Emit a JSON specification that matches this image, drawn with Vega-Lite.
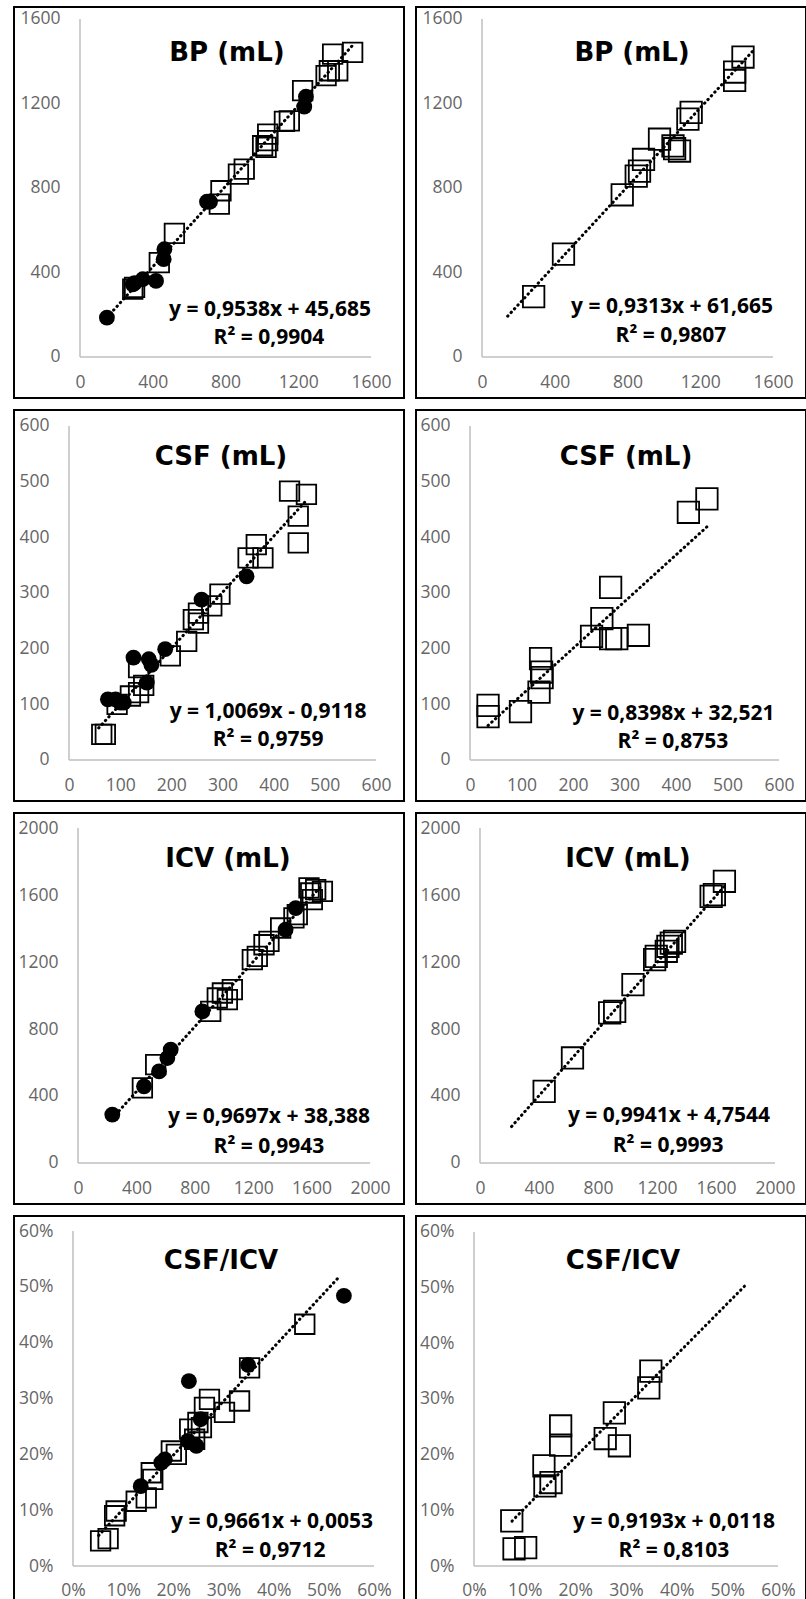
{
"$schema": "https://vega.github.io/schema/vega-lite/v6.json",
"background": "white",
"padding": {"left": 13, "top": 6, "right": 0, "bottom": 0},
"config": {
  "view": {"stroke": "#000", "strokeWidth": 2},
  "axis": {"domain": false, "ticks": false, "grid": false, "labelFont": "Open Sans", "labelFontSize": 17.5, "labelColor": "#666", "labelFlush": false, "labelOverlap": false, "labelBound": false}
},
"datasets": {
  "points": [
    {"p":"A","m":"s","x":290,"y":321},{"p":"A","m":"s","x":300,"y":330},{"p":"A","m":"s","x":436,"y":447},{"p":"A","m":"s","x":519,"y":585},{"p":"A","m":"s","x":775,"y":787},{"p":"A","m":"s","x":766,"y":724},{"p":"A","m":"s","x":871,"y":866},{"p":"A","m":"s","x":903,"y":889},{"p":"A","m":"s","x":1004,"y":1000},{"p":"A","m":"s","x":1023,"y":992},{"p":"A","m":"s","x":1032,"y":1024},{"p":"A","m":"s","x":1032,"y":1055},{"p":"A","m":"s","x":1124,"y":1115},{"p":"A","m":"s","x":1151,"y":1118},{"p":"A","m":"s","x":1224,"y":1261},{"p":"A","m":"s","x":1353,"y":1332},{"p":"A","m":"s","x":1371,"y":1355},{"p":"A","m":"s","x":1417,"y":1355},{"p":"A","m":"s","x":1389,"y":1434},{"p":"A","m":"s","x":1499,"y":1442},
    {"p":"A","m":"c","x":148,"y":186},{"p":"A","m":"c","x":290,"y":344},{"p":"A","m":"c","x":300,"y":350},{"p":"A","m":"c","x":345,"y":368},{"p":"A","m":"c","x":418,"y":360},{"p":"A","m":"c","x":460,"y":463},{"p":"A","m":"c","x":464,"y":510},{"p":"A","m":"c","x":698,"y":735},{"p":"A","m":"c","x":715,"y":735},{"p":"A","m":"c","x":1233,"y":1185},{"p":"A","m":"c","x":1242,"y":1232},
    {"p":"B","m":"s","x":284,"y":286},{"p":"B","m":"s","x":448,"y":487},{"p":"B","m":"s","x":771,"y":768},{"p":"B","m":"s","x":848,"y":856},{"p":"B","m":"s","x":866,"y":880},{"p":"B","m":"s","x":888,"y":935},{"p":"B","m":"s","x":976,"y":1031},{"p":"B","m":"s","x":1050,"y":999},{"p":"B","m":"s","x":1059,"y":986},{"p":"B","m":"s","x":1086,"y":975},{"p":"B","m":"s","x":1132,"y":1126},{"p":"B","m":"s","x":1150,"y":1158},{"p":"B","m":"s","x":1389,"y":1309},{"p":"B","m":"s","x":1389,"y":1349},{"p":"B","m":"s","x":1435,"y":1420},
    {"p":"C","m":"s","x":64,"y":46},{"p":"C","m":"s","x":71,"y":46},{"p":"C","m":"s","x":94,"y":100},{"p":"C","m":"s","x":120,"y":115},{"p":"C","m":"s","x":136,"y":121},{"p":"C","m":"s","x":136,"y":166},{"p":"C","m":"s","x":146,"y":134},{"p":"C","m":"s","x":198,"y":187},{"p":"C","m":"s","x":230,"y":213},{"p":"C","m":"s","x":243,"y":252},{"p":"C","m":"s","x":253,"y":246},{"p":"C","m":"s","x":253,"y":264},{"p":"C","m":"s","x":279,"y":277},{"p":"C","m":"s","x":295,"y":298},{"p":"C","m":"s","x":350,"y":363},{"p":"C","m":"s","x":366,"y":387},{"p":"C","m":"s","x":379,"y":363},{"p":"C","m":"s","x":448,"y":390},{"p":"C","m":"s","x":448,"y":438},{"p":"C","m":"s","x":431,"y":483},{"p":"C","m":"s","x":464,"y":477},
    {"p":"C","m":"c","x":76,"y":109},{"p":"C","m":"c","x":91,"y":109},{"p":"C","m":"c","x":100,"y":103},{"p":"C","m":"c","x":107,"y":103},{"p":"C","m":"c","x":126,"y":184},{"p":"C","m":"c","x":156,"y":181},{"p":"C","m":"c","x":161,"y":171},{"p":"C","m":"c","x":152,"y":139},{"p":"C","m":"c","x":188,"y":199},{"p":"C","m":"c","x":259,"y":288},{"p":"C","m":"c","x":347,"y":330},
    {"p":"D","m":"s","x":35,"y":98},{"p":"D","m":"s","x":35,"y":78},{"p":"D","m":"s","x":98,"y":87},{"p":"D","m":"s","x":137,"y":182},{"p":"D","m":"s","x":139,"y":158},{"p":"D","m":"s","x":140,"y":148},{"p":"D","m":"s","x":134,"y":122},{"p":"D","m":"s","x":273,"y":310},{"p":"D","m":"s","x":256,"y":254},{"p":"D","m":"s","x":236,"y":222},{"p":"D","m":"s","x":273,"y":218},{"p":"D","m":"s","x":285,"y":218},{"p":"D","m":"s","x":327,"y":224},{"p":"D","m":"s","x":424,"y":445},{"p":"D","m":"s","x":460,"y":469},
    {"p":"E","m":"s","x":441,"y":448},{"p":"E","m":"s","x":532,"y":587},{"p":"E","m":"s","x":909,"y":905},{"p":"E","m":"s","x":954,"y":985},{"p":"E","m":"s","x":989,"y":1015},{"p":"E","m":"s","x":1023,"y":975},{"p":"E","m":"s","x":1057,"y":1035},{"p":"E","m":"s","x":1194,"y":1214},{"p":"E","m":"s","x":1228,"y":1234},{"p":"E","m":"s","x":1274,"y":1303},{"p":"E","m":"s","x":1308,"y":1323},{"p":"E","m":"s","x":1388,"y":1403},{"p":"E","m":"s","x":1479,"y":1463},{"p":"E","m":"s","x":1502,"y":1483},{"p":"E","m":"s","x":1594,"y":1612},{"p":"E","m":"s","x":1628,"y":1632},{"p":"E","m":"s","x":1674,"y":1622},{"p":"E","m":"s","x":1605,"y":1572},{"p":"E","m":"s","x":1582,"y":1642},
    {"p":"E","m":"c","x":235,"y":289},{"p":"E","m":"c","x":452,"y":458},{"p":"E","m":"c","x":555,"y":547},{"p":"E","m":"c","x":612,"y":627},{"p":"E","m":"c","x":635,"y":677},{"p":"E","m":"c","x":852,"y":905},{"p":"E","m":"c","x":1422,"y":1393},{"p":"E","m":"c","x":1491,"y":1522},
    {"p":"F","m":"s","x":435,"y":428},{"p":"F","m":"s","x":627,"y":627},{"p":"F","m":"s","x":879,"y":896},{"p":"F","m":"s","x":913,"y":905},{"p":"F","m":"s","x":1037,"y":1065},{"p":"F","m":"s","x":1184,"y":1214},{"p":"F","m":"s","x":1195,"y":1234},{"p":"F","m":"s","x":1263,"y":1264},{"p":"F","m":"s","x":1297,"y":1313},{"p":"F","m":"s","x":1319,"y":1323},{"p":"F","m":"s","x":1274,"y":1294},{"p":"F","m":"s","x":1567,"y":1592},{"p":"F","m":"s","x":1589,"y":1602},{"p":"F","m":"s","x":1657,"y":1682},
    {"p":"G","m":"s","x":0.055,"y":0.045},{"p":"G","m":"s","x":0.07,"y":0.049},{"p":"G","m":"s","x":0.083,"y":0.09},{"p":"G","m":"s","x":0.086,"y":0.0985},{"p":"G","m":"s","x":0.126,"y":0.116},{"p":"G","m":"s","x":0.146,"y":0.122},{"p":"G","m":"s","x":0.159,"y":0.155},{"p":"G","m":"s","x":0.156,"y":0.167},{"p":"G","m":"s","x":0.196,"y":0.206},{"p":"G","m":"s","x":0.206,"y":0.2},{"p":"G","m":"s","x":0.2326,"y":0.245},{"p":"G","m":"s","x":0.249,"y":0.257},{"p":"G","m":"s","x":0.256,"y":0.248},{"p":"G","m":"s","x":0.262,"y":0.284},{"p":"G","m":"s","x":0.272,"y":0.2985},{"p":"G","m":"s","x":0.302,"y":0.275},{"p":"G","m":"s","x":0.332,"y":0.2955},{"p":"G","m":"s","x":0.352,"y":0.355},{"p":"G","m":"s","x":0.462,"y":0.433},{"p":"G","m":"s","x":0.2425,"y":0.227},
    {"p":"G","m":"c","x":0.54,"y":0.484},{"p":"G","m":"c","x":0.349,"y":0.36},{"p":"G","m":"c","x":0.231,"y":0.331},{"p":"G","m":"c","x":0.2545,"y":0.263},{"p":"G","m":"c","x":0.246,"y":0.215},{"p":"G","m":"c","x":0.229,"y":0.224},{"p":"G","m":"c","x":0.183,"y":0.191},{"p":"G","m":"c","x":0.176,"y":0.185},{"p":"G","m":"c","x":0.135,"y":0.143},
    {"p":"H","m":"s","x":0.0745,"y":0.081},{"p":"H","m":"s","x":0.079,"y":0.031},{"p":"H","m":"s","x":0.102,"y":0.033},{"p":"H","m":"s","x":0.138,"y":0.18},{"p":"H","m":"s","x":0.14,"y":0.144},{"p":"H","m":"s","x":0.152,"y":0.15},{"p":"H","m":"s","x":0.171,"y":0.2515},{"p":"H","m":"s","x":0.171,"y":0.217},{"p":"H","m":"s","x":0.259,"y":0.229},{"p":"H","m":"s","x":0.277,"y":0.275},{"p":"H","m":"s","x":0.287,"y":0.216},{"p":"H","m":"s","x":0.349,"y":0.35},{"p":"H","m":"s","x":0.345,"y":0.32}
  ],
  "trend": [
    {"p":"A","x":148,"y":186.8},{"p":"A","x":1499,"y":1475.4},
    {"p":"B","x":141,"y":193.0},{"p":"B","x":1490,"y":1449.3},
    {"p":"C","x":58,"y":57.5},{"p":"C","x":464,"y":466.3},
    {"p":"D","x":35,"y":61.9},{"p":"D","x":460,"y":418.8},
    {"p":"E","x":235,"y":266.3},{"p":"E","x":1660,"y":1648.1},
    {"p":"F","x":214,"y":217.5},{"p":"F","x":1657,"y":1652.0},
    {"p":"G","x":0.051,"y":0.0546},{"p":"G","x":0.532,"y":0.5193},
    {"p":"H","x":0.075,"y":0.0807},{"p":"H","x":0.534,"y":0.5027}
  ]
},
"spacing": 10,
"vconcat": [
 {"hconcat": [
  {"width": 390, "height": 391, "layer": [
   {"data": {"name": "points"}, "transform": [{"filter": "datum.p == 'A' && datum.m == 's'"}], "mark": {"type": "point", "shape": "square", "filled": false, "color": "#000", "strokeWidth": 1.8, "size": 380, "opacity": 1}, "encoding": {"x": {"field": "x", "type": "quantitative", "scale": {"domain": [-362.9, 1781.4], "nice": false, "zero": false}, "axis": {"values": [0,400,800,1200,1600], "format": "d", "title": null, "offset": -41, "labelPadding": 16}}, "y": {"field": "y", "type": "quantitative", "scale": {"domain": [-194.1, 1656.8], "nice": false, "zero": false}, "axis": {"values": [0,400,800,1200,1600], "format": "d", "title": null, "offset": -66, "labelPadding": 20}}}},
   {"data": {"values": [{}]}, "mark": {"type": "rule", "color": "#bfbfbf", "strokeWidth": 1.5}, "encoding": {"x": {"datum": 0, "type": "quantitative", "scale": {"domain": [-362.9, 1781.4], "nice": false, "zero": false}}, "x2": {"datum": 1600}, "y": {"datum": 0, "type": "quantitative", "scale": {"domain": [-194.1, 1656.8], "nice": false, "zero": false}}}},
   {"data": {"values": [{}]}, "mark": {"type": "rule", "color": "#bfbfbf", "strokeWidth": 1.5}, "encoding": {"x": {"datum": 0, "type": "quantitative", "scale": {"domain": [-362.9, 1781.4], "nice": false, "zero": false}}, "y": {"datum": 0, "type": "quantitative", "scale": {"domain": [-194.1, 1656.8], "nice": false, "zero": false}}, "y2": {"datum": 1600}}},
   {"data": {"name": "points"}, "transform": [{"filter": "datum.p == 'A' && datum.m == 'c'"}], "mark": {"type": "circle", "color": "#000", "size": 250, "opacity": 1}, "encoding": {"x": {"field": "x", "type": "quantitative", "scale": {"domain": [-362.9, 1781.4], "nice": false, "zero": false}}, "y": {"field": "y", "type": "quantitative", "scale": {"domain": [-194.1, 1656.8], "nice": false, "zero": false}}}},
   {"data": {"name": "trend"}, "transform": [{"filter": "datum.p == 'A'"}], "mark": {"type": "line", "color": "#000", "strokeWidth": 3, "strokeDash": [0.5, 4.5], "strokeCap": "round"}, "encoding": {"x": {"field": "x", "type": "quantitative", "scale": {"domain": [-362.9, 1781.4], "nice": false, "zero": false}}, "y": {"field": "y", "type": "quantitative", "scale": {"domain": [-194.1, 1656.8], "nice": false, "zero": false}}}},
   {"data": {"values": [{}]}, "mark": {"type": "text", "text": "BP (mL)", "font": "DejaVu Sans", "fontWeight": "bold", "fontSize": 26, "align": "center", "baseline": "alphabetic", "color": "#000"}, "encoding": {"x": {"datum": 808, "type": "quantitative"}, "y": {"datum": 1401, "type": "quantitative"}}},
   {"data": {"values": [{}]}, "mark": {"type": "text", "text": "y = 0,9538x + 45,685", "font": "Open Sans", "fontWeight": "bold", "fontSize": 21, "align": "center", "baseline": "alphabetic", "color": "#000"}, "encoding": {"x": {"datum": 1045, "type": "quantitative"}, "y": {"datum": 194, "type": "quantitative"}}},
   {"data": {"values": [{}]}, "mark": {"type": "text", "text": "R² = 0,9904", "font": "Open Sans", "fontWeight": "bold", "fontSize": 21, "align": "center", "baseline": "alphabetic", "color": "#000"}, "encoding": {"x": {"datum": 1039, "type": "quantitative"}, "y": {"datum": 61.5, "type": "quantitative"}}}
  ]},
  {"width": 390, "height": 391, "layer": [
   {"data": {"name": "points"}, "transform": [{"filter": "datum.p == 'B' && datum.m == 's'"}], "mark": {"type": "point", "shape": "square", "filled": false, "color": "#000", "strokeWidth": 1.8, "size": 460, "opacity": 1}, "encoding": {"x": {"field": "x", "type": "quantitative", "scale": {"domain": [-362.9, 1781.4], "nice": false, "zero": false}, "axis": {"values": [0,400,800,1200,1600], "format": "d", "title": null, "offset": -41, "labelPadding": 16}}, "y": {"field": "y", "type": "quantitative", "scale": {"domain": [-194.1, 1656.8], "nice": false, "zero": false}, "axis": {"values": [0,400,800,1200,1600], "format": "d", "title": null, "offset": -66, "labelPadding": 20}}}},
   {"data": {"values": [{}]}, "mark": {"type": "rule", "color": "#bfbfbf", "strokeWidth": 1.5}, "encoding": {"x": {"datum": 0, "type": "quantitative", "scale": {"domain": [-362.9, 1781.4], "nice": false, "zero": false}}, "x2": {"datum": 1600}, "y": {"datum": 0, "type": "quantitative", "scale": {"domain": [-194.1, 1656.8], "nice": false, "zero": false}}}},
   {"data": {"values": [{}]}, "mark": {"type": "rule", "color": "#bfbfbf", "strokeWidth": 1.5}, "encoding": {"x": {"datum": 0, "type": "quantitative", "scale": {"domain": [-362.9, 1781.4], "nice": false, "zero": false}}, "y": {"datum": 0, "type": "quantitative", "scale": {"domain": [-194.1, 1656.8], "nice": false, "zero": false}}, "y2": {"datum": 1600}}},
   {"data": {"name": "trend"}, "transform": [{"filter": "datum.p == 'B'"}], "mark": {"type": "line", "color": "#000", "strokeWidth": 3, "strokeDash": [0.5, 4.5], "strokeCap": "round"}, "encoding": {"x": {"field": "x", "type": "quantitative", "scale": {"domain": [-362.9, 1781.4], "nice": false, "zero": false}}, "y": {"field": "y", "type": "quantitative", "scale": {"domain": [-194.1, 1656.8], "nice": false, "zero": false}}}},
   {"data": {"values": [{}]}, "mark": {"type": "text", "text": "BP (mL)", "font": "DejaVu Sans", "fontWeight": "bold", "fontSize": 26, "align": "center", "baseline": "alphabetic", "color": "#000"}, "encoding": {"x": {"datum": 825, "type": "quantitative"}, "y": {"datum": 1401, "type": "quantitative"}}},
   {"data": {"values": [{}]}, "mark": {"type": "text", "text": "y = 0,9313x + 61,665", "font": "Open Sans", "fontWeight": "bold", "fontSize": 21, "align": "center", "baseline": "alphabetic", "color": "#000"}, "encoding": {"x": {"datum": 1045, "type": "quantitative"}, "y": {"datum": 208, "type": "quantitative"}}},
   {"data": {"values": [{}]}, "mark": {"type": "text", "text": "R² = 0,9807", "font": "Open Sans", "fontWeight": "bold", "fontSize": 21, "align": "center", "baseline": "alphabetic", "color": "#000"}, "encoding": {"x": {"datum": 1039, "type": "quantitative"}, "y": {"datum": 71, "type": "quantitative"}}}
  ]}
 ], "spacing": 10},
 {"hconcat": [
  {"width": 390, "height": 391, "layer": [
   {"data": {"name": "points"}, "transform": [{"filter": "datum.p == 'C' && datum.m == 's'"}], "mark": {"type": "point", "shape": "square", "filled": false, "color": "#000", "strokeWidth": 1.8, "size": 380, "opacity": 1}, "encoding": {"x": {"field": "x", "type": "quantitative", "scale": {"domain": [-107.5, 654.7], "nice": false, "zero": false}, "axis": {"values": [0,100,200,300,400,500,600], "format": "d", "title": null, "offset": -41, "labelPadding": 16}}, "y": {"field": "y", "type": "quantitative", "scale": {"domain": [-73.65, 628.7], "nice": false, "zero": false}, "axis": {"values": [0,100,200,300,400,500,600], "format": "d", "title": null, "offset": -55, "labelPadding": 20}}}},
   {"data": {"values": [{}]}, "mark": {"type": "rule", "color": "#bfbfbf", "strokeWidth": 1.5}, "encoding": {"x": {"datum": 0, "type": "quantitative", "scale": {"domain": [-107.5, 654.7], "nice": false, "zero": false}}, "x2": {"datum": 600}, "y": {"datum": 0, "type": "quantitative", "scale": {"domain": [-73.65, 628.7], "nice": false, "zero": false}}}},
   {"data": {"values": [{}]}, "mark": {"type": "rule", "color": "#bfbfbf", "strokeWidth": 1.5}, "encoding": {"x": {"datum": 0, "type": "quantitative", "scale": {"domain": [-107.5, 654.7], "nice": false, "zero": false}}, "y": {"datum": 0, "type": "quantitative", "scale": {"domain": [-73.65, 628.7], "nice": false, "zero": false}}, "y2": {"datum": 600}}},
   {"data": {"name": "points"}, "transform": [{"filter": "datum.p == 'C' && datum.m == 'c'"}], "mark": {"type": "circle", "color": "#000", "size": 250, "opacity": 1}, "encoding": {"x": {"field": "x", "type": "quantitative", "scale": {"domain": [-107.5, 654.7], "nice": false, "zero": false}}, "y": {"field": "y", "type": "quantitative", "scale": {"domain": [-73.65, 628.7], "nice": false, "zero": false}}}},
   {"data": {"name": "trend"}, "transform": [{"filter": "datum.p == 'C'"}], "mark": {"type": "line", "color": "#000", "strokeWidth": 3, "strokeDash": [0.5, 4.5], "strokeCap": "round"}, "encoding": {"x": {"field": "x", "type": "quantitative", "scale": {"domain": [-107.5, 654.7], "nice": false, "zero": false}}, "y": {"field": "y", "type": "quantitative", "scale": {"domain": [-73.65, 628.7], "nice": false, "zero": false}}}},
   {"data": {"values": [{}]}, "mark": {"type": "text", "text": "CSF (mL)", "font": "DejaVu Sans", "fontWeight": "bold", "fontSize": 26, "align": "center", "baseline": "alphabetic", "color": "#000"}, "encoding": {"x": {"datum": 297, "type": "quantitative"}, "y": {"datum": 530, "type": "quantitative"}}},
   {"data": {"values": [{}]}, "mark": {"type": "text", "text": "y = 1,0069x - 0,9118", "font": "Open Sans", "fontWeight": "bold", "fontSize": 21, "align": "center", "baseline": "alphabetic", "color": "#000"}, "encoding": {"x": {"datum": 389, "type": "quantitative"}, "y": {"datum": 75, "type": "quantitative"}}},
   {"data": {"values": [{}]}, "mark": {"type": "text", "text": "R² = 0,9759", "font": "Open Sans", "fontWeight": "bold", "fontSize": 21, "align": "center", "baseline": "alphabetic", "color": "#000"}, "encoding": {"x": {"datum": 389, "type": "quantitative"}, "y": {"datum": 25, "type": "quantitative"}}}
  ]},
  {"width": 390, "height": 391, "layer": [
   {"data": {"name": "points"}, "transform": [{"filter": "datum.p == 'D' && datum.m == 's'"}], "mark": {"type": "point", "shape": "square", "filled": false, "color": "#000", "strokeWidth": 1.8, "size": 460, "opacity": 1}, "encoding": {"x": {"field": "x", "type": "quantitative", "scale": {"domain": [-104.9, 652.4], "nice": false, "zero": false}, "axis": {"values": [0,100,200,300,400,500,600], "format": "d", "title": null, "offset": -41, "labelPadding": 16}}, "y": {"field": "y", "type": "quantitative", "scale": {"domain": [-73.65, 628.7], "nice": false, "zero": false}, "axis": {"values": [0,100,200,300,400,500,600], "format": "d", "title": null, "offset": -54, "labelPadding": 20}}}},
   {"data": {"values": [{}]}, "mark": {"type": "rule", "color": "#bfbfbf", "strokeWidth": 1.5}, "encoding": {"x": {"datum": 0, "type": "quantitative", "scale": {"domain": [-104.9, 652.4], "nice": false, "zero": false}}, "x2": {"datum": 600}, "y": {"datum": 0, "type": "quantitative", "scale": {"domain": [-73.65, 628.7], "nice": false, "zero": false}}}},
   {"data": {"values": [{}]}, "mark": {"type": "rule", "color": "#bfbfbf", "strokeWidth": 1.5}, "encoding": {"x": {"datum": 0, "type": "quantitative", "scale": {"domain": [-104.9, 652.4], "nice": false, "zero": false}}, "y": {"datum": 0, "type": "quantitative", "scale": {"domain": [-73.65, 628.7], "nice": false, "zero": false}}, "y2": {"datum": 600}}},
   {"data": {"name": "trend"}, "transform": [{"filter": "datum.p == 'D'"}], "mark": {"type": "line", "color": "#000", "strokeWidth": 3, "strokeDash": [0.5, 4.5], "strokeCap": "round"}, "encoding": {"x": {"field": "x", "type": "quantitative", "scale": {"domain": [-104.9, 652.4], "nice": false, "zero": false}}, "y": {"field": "y", "type": "quantitative", "scale": {"domain": [-73.65, 628.7], "nice": false, "zero": false}}}},
   {"data": {"values": [{}]}, "mark": {"type": "text", "text": "CSF (mL)", "font": "DejaVu Sans", "fontWeight": "bold", "fontSize": 26, "align": "center", "baseline": "alphabetic", "color": "#000"}, "encoding": {"x": {"datum": 303, "type": "quantitative"}, "y": {"datum": 530, "type": "quantitative"}}},
   {"data": {"values": [{}]}, "mark": {"type": "text", "text": "y = 0,8398x + 32,521", "font": "Open Sans", "fontWeight": "bold", "fontSize": 21, "align": "center", "baseline": "alphabetic", "color": "#000"}, "encoding": {"x": {"datum": 395, "type": "quantitative"}, "y": {"datum": 72, "type": "quantitative"}}},
   {"data": {"values": [{}]}, "mark": {"type": "text", "text": "R² = 0,8753", "font": "Open Sans", "fontWeight": "bold", "fontSize": 21, "align": "center", "baseline": "alphabetic", "color": "#000"}, "encoding": {"x": {"datum": 394, "type": "quantitative"}, "y": {"datum": 21.5, "type": "quantitative"}}}
  ]}
 ], "spacing": 10},
 {"hconcat": [
  {"width": 390, "height": 391, "layer": [
   {"data": {"name": "points"}, "transform": [{"filter": "datum.p == 'E' && datum.m == 's'"}], "mark": {"type": "point", "shape": "square", "filled": false, "color": "#000", "strokeWidth": 1.8, "size": 380, "opacity": 1}, "encoding": {"x": {"field": "x", "type": "quantitative", "scale": {"domain": [-438.4, 2232.9], "nice": false, "zero": false}, "axis": {"values": [0,400,800,1200,1600,2000], "format": "d", "title": null, "offset": -41, "labelPadding": 16}}, "y": {"field": "y", "type": "quantitative", "scale": {"domain": [-244.8, 2089.6], "nice": false, "zero": false}, "axis": {"values": [0,400,800,1200,1600,2000], "format": "d", "title": null, "offset": -64, "labelPadding": 20}}}},
   {"data": {"values": [{}]}, "mark": {"type": "rule", "color": "#bfbfbf", "strokeWidth": 1.5}, "encoding": {"x": {"datum": 0, "type": "quantitative", "scale": {"domain": [-438.4, 2232.9], "nice": false, "zero": false}}, "x2": {"datum": 2000}, "y": {"datum": 0, "type": "quantitative", "scale": {"domain": [-244.8, 2089.6], "nice": false, "zero": false}}}},
   {"data": {"values": [{}]}, "mark": {"type": "rule", "color": "#bfbfbf", "strokeWidth": 1.5}, "encoding": {"x": {"datum": 0, "type": "quantitative", "scale": {"domain": [-438.4, 2232.9], "nice": false, "zero": false}}, "y": {"datum": 0, "type": "quantitative", "scale": {"domain": [-244.8, 2089.6], "nice": false, "zero": false}}, "y2": {"datum": 2000}}},
   {"data": {"name": "points"}, "transform": [{"filter": "datum.p == 'E' && datum.m == 'c'"}], "mark": {"type": "circle", "color": "#000", "size": 250, "opacity": 1}, "encoding": {"x": {"field": "x", "type": "quantitative", "scale": {"domain": [-438.4, 2232.9], "nice": false, "zero": false}}, "y": {"field": "y", "type": "quantitative", "scale": {"domain": [-244.8, 2089.6], "nice": false, "zero": false}}}},
   {"data": {"name": "trend"}, "transform": [{"filter": "datum.p == 'E'"}], "mark": {"type": "line", "color": "#000", "strokeWidth": 3, "strokeDash": [0.5, 4.5], "strokeCap": "round"}, "encoding": {"x": {"field": "x", "type": "quantitative", "scale": {"domain": [-438.4, 2232.9], "nice": false, "zero": false}}, "y": {"field": "y", "type": "quantitative", "scale": {"domain": [-244.8, 2089.6], "nice": false, "zero": false}}}},
   {"data": {"values": [{}]}, "mark": {"type": "text", "text": "ICV (mL)", "font": "DejaVu Sans", "fontWeight": "bold", "fontSize": 26, "align": "center", "baseline": "alphabetic", "color": "#000"}, "encoding": {"x": {"datum": 1027, "type": "quantitative"}, "y": {"datum": 1767, "type": "quantitative"}}},
   {"data": {"values": [{}]}, "mark": {"type": "text", "text": "y = 0,9697x + 38,388", "font": "Open Sans", "fontWeight": "bold", "fontSize": 21, "align": "center", "baseline": "alphabetic", "color": "#000"}, "encoding": {"x": {"datum": 1308, "type": "quantitative"}, "y": {"datum": 239, "type": "quantitative"}}},
   {"data": {"values": [{}]}, "mark": {"type": "text", "text": "R² = 0,9943", "font": "Open Sans", "fontWeight": "bold", "fontSize": 21, "align": "center", "baseline": "alphabetic", "color": "#000"}, "encoding": {"x": {"datum": 1308, "type": "quantitative"}, "y": {"datum": 60, "type": "quantitative"}}}
  ]},
  {"width": 390, "height": 391, "layer": [
   {"data": {"name": "points"}, "transform": [{"filter": "datum.p == 'F' && datum.m == 's'"}], "mark": {"type": "point", "shape": "square", "filled": false, "color": "#000", "strokeWidth": 1.8, "size": 460, "opacity": 1}, "encoding": {"x": {"field": "x", "type": "quantitative", "scale": {"domain": [-433.9, 2210.2], "nice": false, "zero": false}, "axis": {"values": [0,400,800,1200,1600,2000], "format": "d", "title": null, "offset": -41, "labelPadding": 16}}, "y": {"field": "y", "type": "quantitative", "scale": {"domain": [-244.8, 2089.6], "nice": false, "zero": false}, "axis": {"values": [0,400,800,1200,1600,2000], "format": "d", "title": null, "offset": -64, "labelPadding": 20}}}},
   {"data": {"values": [{}]}, "mark": {"type": "rule", "color": "#bfbfbf", "strokeWidth": 1.5}, "encoding": {"x": {"datum": 0, "type": "quantitative", "scale": {"domain": [-433.9, 2210.2], "nice": false, "zero": false}}, "x2": {"datum": 2000}, "y": {"datum": 0, "type": "quantitative", "scale": {"domain": [-244.8, 2089.6], "nice": false, "zero": false}}}},
   {"data": {"values": [{}]}, "mark": {"type": "rule", "color": "#bfbfbf", "strokeWidth": 1.5}, "encoding": {"x": {"datum": 0, "type": "quantitative", "scale": {"domain": [-433.9, 2210.2], "nice": false, "zero": false}}, "y": {"datum": 0, "type": "quantitative", "scale": {"domain": [-244.8, 2089.6], "nice": false, "zero": false}}, "y2": {"datum": 2000}}},
   {"data": {"name": "trend"}, "transform": [{"filter": "datum.p == 'F'"}], "mark": {"type": "line", "color": "#000", "strokeWidth": 3, "strokeDash": [0.5, 4.5], "strokeCap": "round"}, "encoding": {"x": {"field": "x", "type": "quantitative", "scale": {"domain": [-433.9, 2210.2], "nice": false, "zero": false}}, "y": {"field": "y", "type": "quantitative", "scale": {"domain": [-244.8, 2089.6], "nice": false, "zero": false}}}},
   {"data": {"values": [{}]}, "mark": {"type": "text", "text": "ICV (mL)", "font": "DejaVu Sans", "fontWeight": "bold", "fontSize": 26, "align": "center", "baseline": "alphabetic", "color": "#000"}, "encoding": {"x": {"datum": 1003, "type": "quantitative"}, "y": {"datum": 1767, "type": "quantitative"}}},
   {"data": {"values": [{}]}, "mark": {"type": "text", "text": "y = 0,9941x + 4,7544", "font": "Open Sans", "fontWeight": "bold", "fontSize": 21, "align": "center", "baseline": "alphabetic", "color": "#000"}, "encoding": {"x": {"datum": 1281, "type": "quantitative"}, "y": {"datum": 245, "type": "quantitative"}}},
   {"data": {"values": [{}]}, "mark": {"type": "text", "text": "R² = 0,9993", "font": "Open Sans", "fontWeight": "bold", "fontSize": 21, "align": "center", "baseline": "alphabetic", "color": "#000"}, "encoding": {"x": {"datum": 1275, "type": "quantitative"}, "y": {"datum": 66, "type": "quantitative"}}}
  ]}
 ], "spacing": 10},
 {"hconcat": [
  {"width": 390, "height": 395, "layer": [
   {"data": {"name": "points"}, "transform": [{"filter": "datum.p == 'G' && datum.m == 's'"}], "mark": {"type": "point", "shape": "square", "filled": false, "color": "#000", "strokeWidth": 1.8, "size": 380, "opacity": 1}, "encoding": {"x": {"field": "x", "type": "quantitative", "scale": {"domain": [-0.1176, 0.6598], "nice": false, "zero": false}, "axis": {"values": [0,0.1,0.2,0.3,0.4,0.5,0.6], "format": ".0%", "title": null, "offset": -45, "labelPadding": 15}}, "y": {"field": "y", "type": "quantitative", "scale": {"domain": [-0.0806, 0.6269], "nice": false, "zero": false}, "axis": {"values": [0,0.1,0.2,0.3,0.4,0.5,0.6], "format": ".0%", "title": null, "offset": -59, "labelPadding": 20}}}},
   {"data": {"values": [{}]}, "mark": {"type": "rule", "color": "#bfbfbf", "strokeWidth": 1.5}, "encoding": {"x": {"datum": 0, "type": "quantitative", "scale": {"domain": [-0.1176, 0.6598], "nice": false, "zero": false}}, "x2": {"datum": 0.6}, "y": {"datum": 0, "type": "quantitative", "scale": {"domain": [-0.0806, 0.6269], "nice": false, "zero": false}}}},
   {"data": {"values": [{}]}, "mark": {"type": "rule", "color": "#bfbfbf", "strokeWidth": 1.5}, "encoding": {"x": {"datum": 0, "type": "quantitative", "scale": {"domain": [-0.1176, 0.6598], "nice": false, "zero": false}}, "y": {"datum": 0, "type": "quantitative", "scale": {"domain": [-0.0806, 0.6269], "nice": false, "zero": false}}, "y2": {"datum": 0.6}}},
   {"data": {"name": "points"}, "transform": [{"filter": "datum.p == 'G' && datum.m == 'c'"}], "mark": {"type": "circle", "color": "#000", "size": 250, "opacity": 1}, "encoding": {"x": {"field": "x", "type": "quantitative", "scale": {"domain": [-0.1176, 0.6598], "nice": false, "zero": false}}, "y": {"field": "y", "type": "quantitative", "scale": {"domain": [-0.0806, 0.6269], "nice": false, "zero": false}}}},
   {"data": {"name": "trend"}, "transform": [{"filter": "datum.p == 'G'"}], "mark": {"type": "line", "color": "#000", "strokeWidth": 3, "strokeDash": [0.5, 4.5], "strokeCap": "round"}, "encoding": {"x": {"field": "x", "type": "quantitative", "scale": {"domain": [-0.1176, 0.6598], "nice": false, "zero": false}}, "y": {"field": "y", "type": "quantitative", "scale": {"domain": [-0.0806, 0.6269], "nice": false, "zero": false}}}},
   {"data": {"values": [{}]}, "mark": {"type": "text", "text": "CSF/ICV", "font": "DejaVu Sans", "fontWeight": "bold", "fontSize": 26, "align": "center", "baseline": "alphabetic", "color": "#000"}, "encoding": {"x": {"datum": 0.295, "type": "quantitative"}, "y": {"datum": 0.532, "type": "quantitative"}}},
   {"data": {"values": [{}]}, "mark": {"type": "text", "text": "y = 0,9661x + 0,0053", "font": "Open Sans", "fontWeight": "bold", "fontSize": 21, "align": "center", "baseline": "alphabetic", "color": "#000"}, "encoding": {"x": {"datum": 0.3967, "type": "quantitative"}, "y": {"datum": 0.068, "type": "quantitative"}}},
   {"data": {"values": [{}]}, "mark": {"type": "text", "text": "R² = 0,9712", "font": "Open Sans", "fontWeight": "bold", "fontSize": 21, "align": "center", "baseline": "alphabetic", "color": "#000"}, "encoding": {"x": {"datum": 0.3927, "type": "quantitative"}, "y": {"datum": 0.016, "type": "quantitative"}}}
  ]},
  {"width": 390, "height": 395, "layer": [
   {"data": {"name": "points"}, "transform": [{"filter": "datum.p == 'H' && datum.m == 's'"}], "mark": {"type": "point", "shape": "square", "filled": false, "color": "#000", "strokeWidth": 1.8, "size": 460, "opacity": 1}, "encoding": {"x": {"field": "x", "type": "quantitative", "scale": {"domain": [-0.1145, 0.6553], "nice": false, "zero": false}, "axis": {"values": [0,0.1,0.2,0.3,0.4,0.5,0.6], "format": ".0%", "title": null, "offset": -45, "labelPadding": 15}}, "y": {"field": "y", "type": "quantitative", "scale": {"domain": [-0.0808, 0.6287], "nice": false, "zero": false}, "axis": {"values": [0,0.1,0.2,0.3,0.4,0.5,0.6], "format": ".0%", "title": null, "offset": -58, "labelPadding": 20}}}},
   {"data": {"values": [{}]}, "mark": {"type": "rule", "color": "#bfbfbf", "strokeWidth": 1.5}, "encoding": {"x": {"datum": 0, "type": "quantitative", "scale": {"domain": [-0.1145, 0.6553], "nice": false, "zero": false}}, "x2": {"datum": 0.6}, "y": {"datum": 0, "type": "quantitative", "scale": {"domain": [-0.0808, 0.6287], "nice": false, "zero": false}}}},
   {"data": {"values": [{}]}, "mark": {"type": "rule", "color": "#bfbfbf", "strokeWidth": 1.5}, "encoding": {"x": {"datum": 0, "type": "quantitative", "scale": {"domain": [-0.1145, 0.6553], "nice": false, "zero": false}}, "y": {"datum": 0, "type": "quantitative", "scale": {"domain": [-0.0808, 0.6287], "nice": false, "zero": false}}, "y2": {"datum": 0.6}}},
   {"data": {"name": "trend"}, "transform": [{"filter": "datum.p == 'H'"}], "mark": {"type": "line", "color": "#000", "strokeWidth": 3, "strokeDash": [0.5, 4.5], "strokeCap": "round"}, "encoding": {"x": {"field": "x", "type": "quantitative", "scale": {"domain": [-0.1145, 0.6553], "nice": false, "zero": false}}, "y": {"field": "y", "type": "quantitative", "scale": {"domain": [-0.0808, 0.6287], "nice": false, "zero": false}}}},
   {"data": {"values": [{}]}, "mark": {"type": "text", "text": "CSF/ICV", "font": "DejaVu Sans", "fontWeight": "bold", "fontSize": 26, "align": "center", "baseline": "alphabetic", "color": "#000"}, "encoding": {"x": {"datum": 0.294, "type": "quantitative"}, "y": {"datum": 0.5335, "type": "quantitative"}}},
   {"data": {"values": [{}]}, "mark": {"type": "text", "text": "y = 0,9193x + 0,0118", "font": "Open Sans", "fontWeight": "bold", "fontSize": 21, "align": "center", "baseline": "alphabetic", "color": "#000"}, "encoding": {"x": {"datum": 0.3947, "type": "quantitative"}, "y": {"datum": 0.068, "type": "quantitative"}}},
   {"data": {"values": [{}]}, "mark": {"type": "text", "text": "R² = 0,8103", "font": "Open Sans", "fontWeight": "bold", "fontSize": 21, "align": "center", "baseline": "alphabetic", "color": "#000"}, "encoding": {"x": {"datum": 0.3947, "type": "quantitative"}, "y": {"datum": 0.016, "type": "quantitative"}}}
  ]}
 ], "spacing": 10}
]
}
